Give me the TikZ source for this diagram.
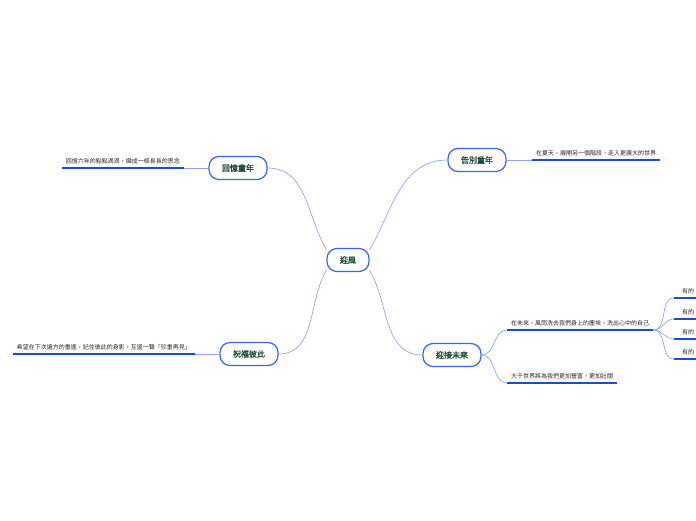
\documentclass[tikz,border=0pt]{standalone}
\usepackage{fontspec}
\newfontfamily\cjk[AutoFakeBold=1.6]{Noto Sans CJK TC}
\usepackage{xcolor}
\usetikzlibrary{positioning, calc}
\definecolor{mapblue}{HTML}{3D63F5}
\definecolor{lineblue}{HTML}{1A4BD9}
\definecolor{wireblue}{HTML}{8FA6F2}
\definecolor{topicgreen}{HTML}{1F4A35}

\begin{document}
\begin{tikzpicture}[
  x=1pt, y=1pt,
  topic/.style={rectangle, draw=mapblue, line width=1.2pt, rounded corners=10pt, fill=white, minimum height=23pt, inner xsep=13pt, font=\cjk\bfseries\fontsize{8}{9}\selectfont, text=topicgreen},
  leaf/.style={inner xsep=4pt, inner ysep=3.5pt, font=\cjk\fontsize{6}{7}\selectfont, text=black!85},
  uline/.style={lineblue, line width=1.3pt},
  branch/.style={wireblue, line width=0.7pt}
]
\useasboundingbox (0,0) rectangle (696,-520);

\node[topic] (root) at (348,-260) {迎風};
\node[topic] (recall) at (238,-168) {回憶童年};
\node[topic] (farewell) at (477,-160) {告別童年};
\node[topic] (bless) at (249,-354) {祝福彼此};
\node[topic] (future) at (452,-355) {迎接未來};

\node[leaf, anchor=south east] (recallnote) at (184,-168) {回憶六年的點點滴滴，織成一條長長的思念};
\node[leaf, anchor=south west] (farewellnote) at (532,-160) {在夏天，展開另一個階段，走入更廣大的世界};
\node[leaf, anchor=south east] (blessnote) at (195,-354) {希望在下次遠方的重逢，記住彼此的身影，互道一聲「珍重再見」};
\node[leaf, anchor=south west] (futurenote) at (507,-330) {在未來，風雨洗去我們身上的塵埃，洗出心中的自己};
\node[leaf, anchor=south west] (worldnote) at (507,-383) {大千世界將為我們更加豐富，更加壯闊};

% cut at the right edge
\node[leaf, anchor=south west, inner xsep=8pt, text width=24pt] (some1) at (674,-298) {有的};
\node[leaf, anchor=south west, inner xsep=8pt, text width=24pt] (some2) at (674,-319) {有的};
\node[leaf, anchor=south west, inner xsep=8pt, text width=24pt] (some3) at (674,-339) {有的};
\node[leaf, anchor=south west, inner xsep=8pt, text width=24pt] (some4) at (674,-359) {有的};

\foreach \n in {recallnote, farewellnote, blessnote, futurenote, worldnote, some1, some2, some3, some4}
  \draw[uline] (\n.south west) -- (\n.south east);

\draw[branch] (root.155) to[out=120,in=0] (recall.east);
\draw[branch] (root.25) to[out=60,in=180] (farewell.west);
\draw[branch] (root.205) to[out=240,in=0] (bless.east);
\draw[branch] (root.335) to[out=-60,in=180] (future.west);

\draw[branch] (recall.west) -- (recallnote.south east);
\draw[branch] (farewell.east) -- (farewellnote.south west);
\draw[branch] (bless.west) -- (blessnote.south east);
\draw[branch] (future.east) to[out=0,in=180] (futurenote.south west);
\draw[branch] (future.east) to[out=0,in=180] (worldnote.south west);

\foreach \n in {some1, some2, some3, some4}
  \draw[branch] (futurenote.south east) to[out=0,in=180] (\n.south west);
\end{tikzpicture}
\end{document}
